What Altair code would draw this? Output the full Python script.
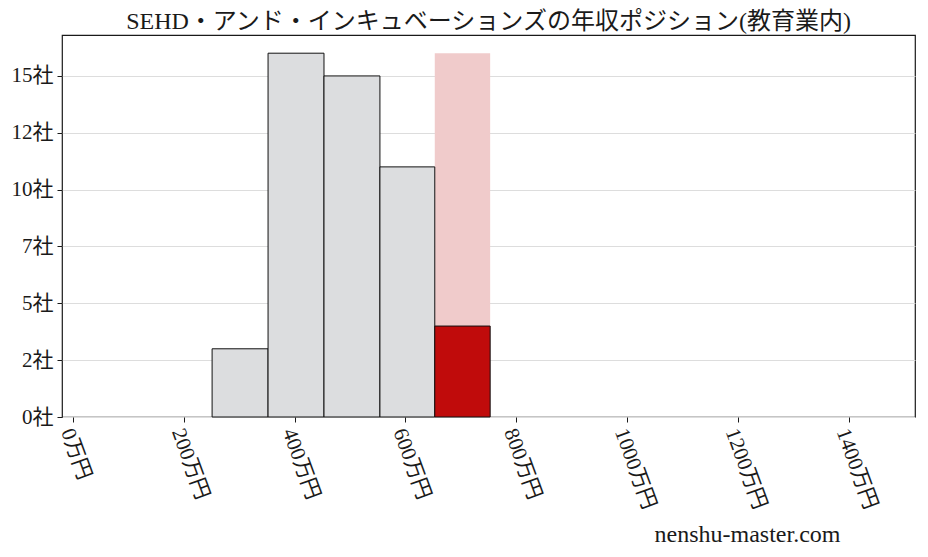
import altair as alt
import pandas as pd

# ===== Data =====
BIN_START = [251, 352, 453, 554, 653]
BIN_END = [352, 453, 554, 653, 753]
COUNTS = [3, 16, 15, 11, 4]
HIGHLIGHT_IDX = 4  # bin the company falls in

X_TICKS = [0, 200, 400, 600, 800, 1000, 1200, 1400]
Y_TICKS = [0, 2.5, 5, 7.5, 10, 12.5, 15]

TITLE = "SEHD・アンド・インキュベーションズの年収ポジション(教育業内)"
WATERMARK = "nenshu-master.com"

# ===== Colors / fonts =====
GRAY = "#dcdddf"
PINK = "#f0cbcb"
RED = "#c00b0b"
INK = "#1a1a1a"
JP_FONT = "Liberation Serif, Noto Sans CJK JP"

df = pd.DataFrame({"start": BIN_START, "end": BIN_END, "count": COUNTS})
df["hl"] = [i == HIGHLIGHT_IDX for i in range(len(df))]
bg = pd.DataFrame({
    "start": [BIN_START[HIGHLIGHT_IDX]],
    "end": [BIN_END[HIGHLIGHT_IDX]],
    "count": [max(COUNTS)],
})

x_scale = alt.Scale(domain=[-20, 1520], nice=False, zero=False)
y_scale = alt.Scale(domain=[0, 16.8], nice=False)

x_axis = alt.Axis(
    values=X_TICKS,
    labelExpr="datum.value + '万円'",
    labelAngle=70,
    labelFontSize=21,
    labelFont=JP_FONT,
    labelColor=INK,
    labelPadding=7,
    labelOffset=-7,
    labelFlush=False,
    labelOverlap=False,
    grid=False,
    tickSize=5,
    tickColor=INK,
    domain=False,
    title=WATERMARK,
    titleFont="Liberation Serif",
    titleFontSize=24,
    titleFontWeight="normal",
    titleColor=INK,
    titleX=685,
    titleY=124,
    titleAlign="center",
    titleBaseline="alphabetic",
)
y_axis = alt.Axis(
    values=Y_TICKS,
    labelExpr="floor(datum.value) + '社'",
    labelFontSize=21,
    labelFont=JP_FONT,
    labelColor=INK,
    labelPadding=4,
    grid=True,
    gridColor="#dddddd",
    gridWidth=1,
    tickSize=5,
    tickColor=INK,
    domain=False,
    title=None,
)

pink = alt.Chart(bg).mark_rect(color=PINK).encode(
    x=alt.X("start:Q", scale=x_scale, axis=x_axis),
    x2="end:Q",
    y=alt.Y("count:Q", scale=y_scale, axis=y_axis),
    y2=alt.datum(0),
)

bars = alt.Chart(df).mark_rect(stroke="#111111", strokeWidth=1).encode(
    x=alt.X("start:Q", scale=x_scale),
    x2="end:Q",
    y=alt.Y("count:Q", scale=y_scale),
    y2=alt.datum(0),
    color=alt.condition("datum.hl", alt.value(RED), alt.value(GRAY)),
)

chart = (
    alt.layer(pink, bars)
    .properties(
        width=853,
        height=382,
        padding={"left": 54, "top": 27, "right": 5, "bottom": 132},
        autosize=alt.AutoSizeParams(type="none"),
        title=alt.TitleParams(
            TITLE,
            font=JP_FONT,
            fontSize=24,
            fontWeight="normal",
            color=INK,
            anchor="middle",
            offset=1,
        ),
    )
    .configure(background="white")
    .configure_view(stroke=INK, strokeWidth=1.2)
)

chart.save("out.html", embed_options={"renderer": "svg", "actions": False})
